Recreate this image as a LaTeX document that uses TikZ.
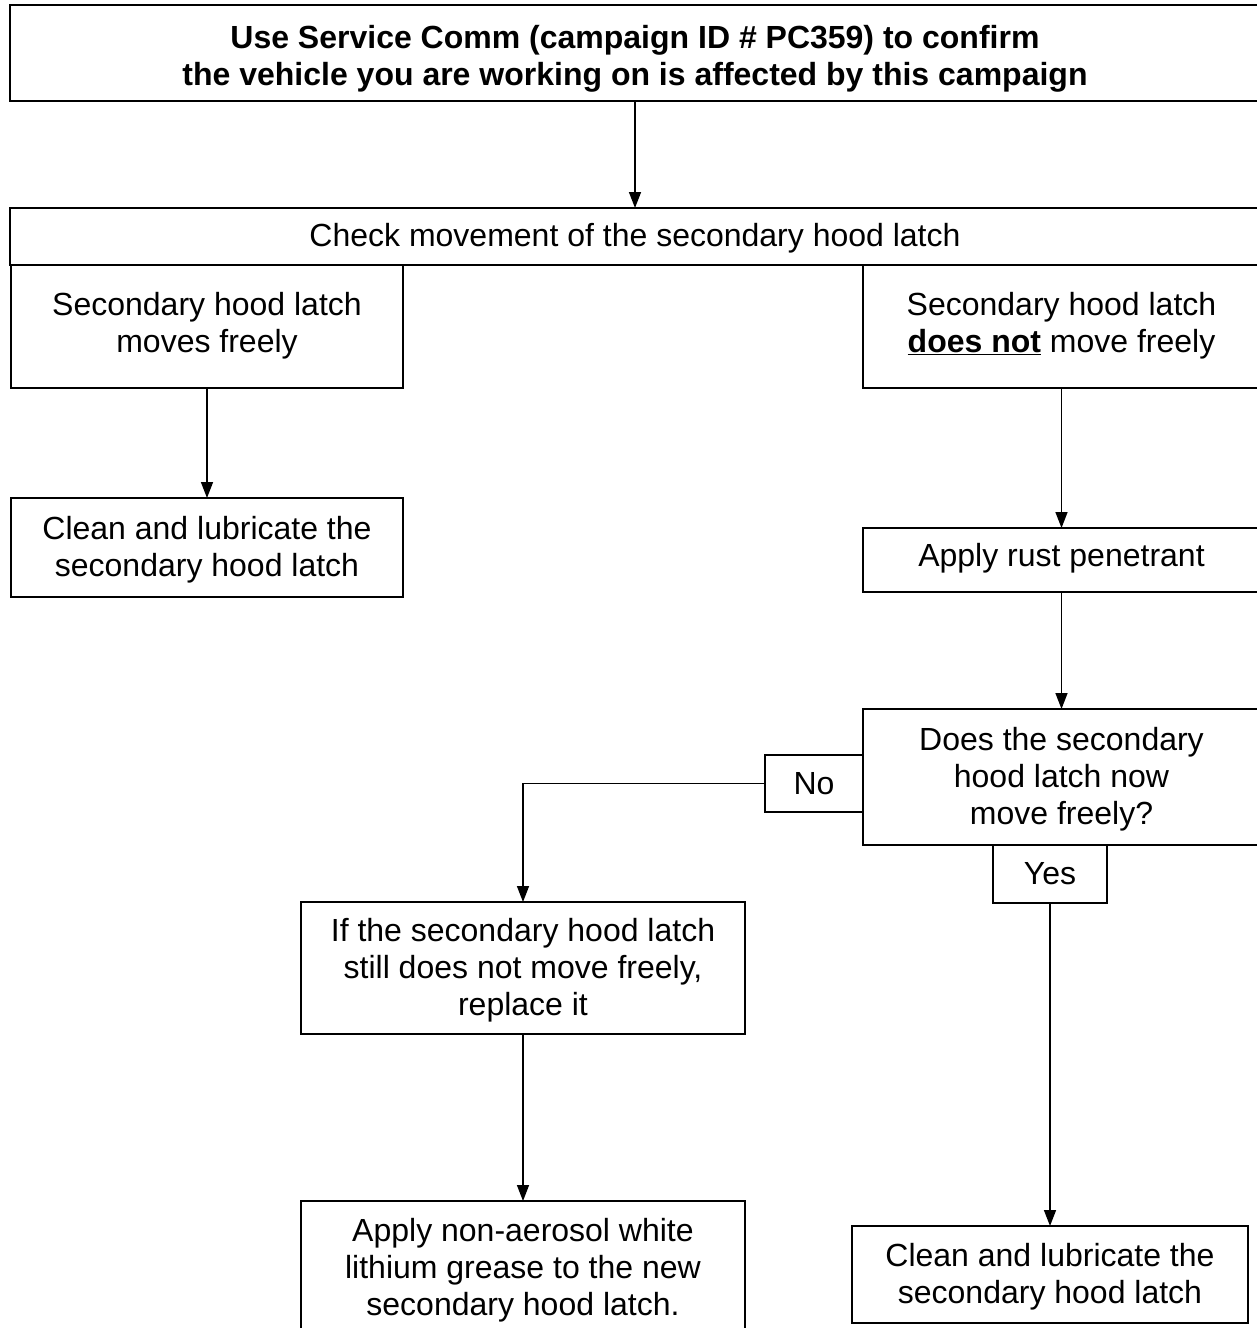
\documentclass[tikz,border=0pt]{standalone}
\usepackage{fontspec}
\setmainfont{Liberation Sans}
\usetikzlibrary{arrows.meta}
\newcommand\bxtext[2][3pt]{\raisebox{-#1}[\height][\depth]{\begin{tabular}{@{}c@{}}#2\end{tabular}}}
\begin{document}
\begin{tikzpicture}[x=1pt,y=-1pt,
  box/.style={draw, line width=2pt, inner sep=0pt, outer sep=0pt, anchor=north west,
    font=\fontsize{32}{37}\selectfont},
  conn/.style={line width=1.5pt, -{Triangle[length=16pt,width=12pt]}}]
\useasboundingbox (0,0) rectangle (1257,1328);
\node[box, minimum width=1250pt, minimum height=96pt, font=\fontsize{32}{37}\selectfont\bfseries] (top) at (10,5)
  {\bxtext[7pt]{Use Service Comm (campaign ID \# PC359) to confirm\\the vehicle you are working on is affected by this campaign}};
\node[box, minimum width=1250pt, minimum height=57pt] (check) at (10,208)
  {\bxtext[3pt]{Check movement of the secondary hood latch}};
\node[box, minimum width=392pt, minimum height=123pt] (left) at (11,265)
  {\bxtext[0pt]{Secondary hood latch\\moves freely}};
\node[box, minimum width=397pt, minimum height=123pt] (right) at (863,265)
  {\bxtext[0pt]{Secondary hood latch\\\underline{\textbf{does not}} move freely}};
\node[box, minimum width=392pt, minimum height=99pt] (lclean) at (11,498)
  {\bxtext{Clean and lubricate the\\secondary hood latch}};
\node[box, minimum width=397pt, minimum height=64pt] (rust) at (863,528)
  {\bxtext[-1pt]{Apply rust penetrant}};
\node[box, minimum width=98pt, minimum height=57pt] (no) at (765,755) {\bxtext[4pt]{No}};
\node[box, minimum width=397pt, minimum height=136pt, fill=white] (does) at (863,709)
  {\bxtext{Does the secondary\\hood latch now\\move freely?}};
\node[box, minimum width=114pt, minimum height=58pt] (yes) at (993,845) {\bxtext[3pt]{Yes}};
\node[box, minimum width=444pt, minimum height=132pt] (ifb) at (301,902)
  {\bxtext{If the secondary hood latch\\still does not move freely,\\replace it}};
\node[box, minimum width=444pt, minimum height=170pt] (apply) at (301,1201)
  {\bxtext[-15pt]{Apply non-aerosol white\\lithium grease to the new\\secondary hood latch.}};
\node[box, minimum width=396pt, minimum height=97pt] (rclean) at (852,1226)
  {\bxtext{Clean and lubricate the\\secondary hood latch}};
\draw[conn] (top.south) -- (check.north);
\draw[conn] (left.south) -- (lclean.north);
\draw[conn] (right.south) -- (rust.north);
\draw[conn] (rust.south) -- (does.north);
\draw[conn] (no.west) -| (ifb.north);
\draw[conn] (ifb.south) -- (apply.north);
\draw[conn] (yes.south) -- (rclean.north);
\end{tikzpicture}
\end{document}
